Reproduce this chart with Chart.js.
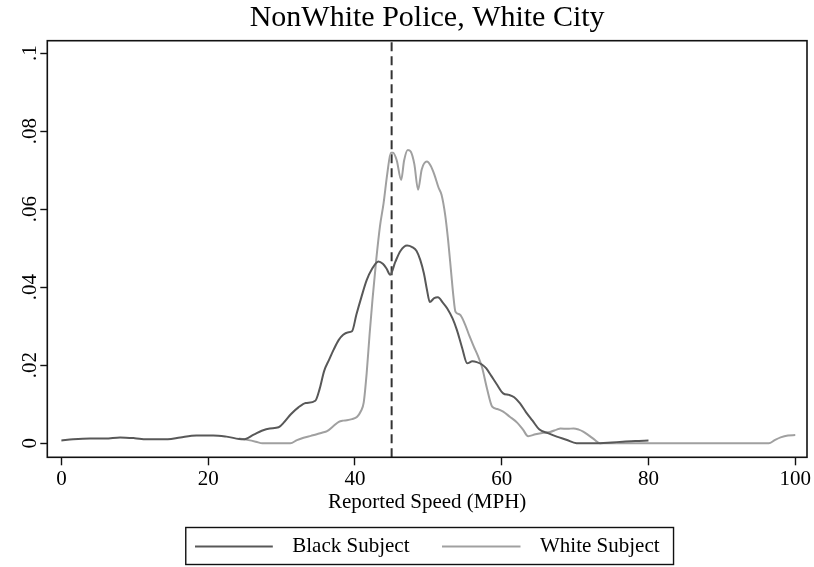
<!DOCTYPE html>
<html>
<head>
<meta charset="utf-8">
<script src="https://cdn.jsdelivr.net/npm/chart.js@4.4.1/dist/chart.umd.min.js"></script>
<style>
html,body{margin:0;padding:0;background:#ffffff;}
#wrap{width:814px;height:567px;}
</style>
</head>
<body>
<div id="wrap"><canvas id="c" width="814" height="567"></canvas></div>
<script>
// ---- chart text ----
const chartTitle = 'NonWhite Police, White City';
const xAxisTitle = 'Reported Speed (MPH)';
const seriesNames = ['Black Subject', 'White Subject'];

// ---- Black Subject density ----
const blackX = [0, 1.6, 3.9, 6, 8, 10, 11.6, 14.5, 16.2, 18.4, 20.7, 22.5, 24.8, 26.2, 27.3, 28.4, 29.6, 30.4, 31.3, 32.3, 33.3, 34.6, 35.2, 35.8, 36.5, 37.1, 37.8, 38.4, 39.0, 39.6, 40.2, 40.9, 41.6, 42.3, 43.2, 43.8, 44.3, 44.8, 45.5, 46.2, 47.1, 47.8, 48.4, 48.9, 49.4, 49.8, 50.2, 50.8, 51.3, 52.0, 52.6, 53.3, 53.9, 54.6, 55.3, 56.0, 56.6, 57.3, 57.9, 58.6, 59.3, 60.2, 61.0, 61.7, 62.5, 63.3, 64.2, 65.1, 66.3, 67.5, 68.8, 70.2, 73.4, 75, 76.5, 78.2, 80];
const blackY = [0.0007, 0.001, 0.0012, 0.0012, 0.0015, 0.0013, 0.001, 0.001, 0.0015, 0.002, 0.002, 0.0017, 0.001, 0.0022, 0.0032, 0.0038, 0.0041, 0.0055, 0.0075, 0.0092, 0.0103, 0.0109, 0.014, 0.0185, 0.0215, 0.024, 0.0265, 0.0278, 0.0284, 0.0287, 0.033, 0.0376, 0.0418, 0.0446, 0.0466, 0.046, 0.0448, 0.0432, 0.0465, 0.0493, 0.0507, 0.0503, 0.0493, 0.047, 0.0435, 0.0395, 0.0362, 0.0372, 0.0374, 0.036, 0.0345, 0.032, 0.029, 0.0245, 0.0205, 0.021, 0.0208, 0.0202, 0.0192, 0.0172, 0.0152, 0.0128, 0.0124, 0.0118, 0.0102, 0.008, 0.0058, 0.0036, 0.0026, 0.0017, 0.0009, 0, 0, 0.0002, 0.0004, 0.0006, 0.0007];

// ---- White Subject density ----
const whiteX = [24.2, 25.5, 26.5, 27.4, 31.2, 32.1, 33.0, 34.0, 34.8, 35.5, 36.2, 37.0, 37.8, 38.4, 38.9, 39.6, 40.3, 40.8, 41.2, 41.6, 42.0, 42.4, 42.9, 43.4, 43.9, 44.4, 44.9, 45.2, 45.7, 46.3, 46.7, 47.2, 47.6, 48.1, 48.6, 49.1, 49.8, 50.3, 50.8, 51.4, 51.8, 52.3, 52.7, 53.1, 53.4, 53.7, 54.3, 55.0, 55.6, 56.2, 56.8, 57.3, 58.0, 58.7, 59.4, 60.2, 61.1, 62.1, 62.9, 63.6, 64.6, 65.7, 66.6, 67.5, 68.0, 69.0, 69.8, 70.5, 71.1, 71.8, 72.6, 73.4, 96.4, 97.2, 98.0, 99.0, 100];
const whiteY = [0.0012, 0.0008, 0.0004, 0, 0, 0.0008, 0.0014, 0.0019, 0.0023, 0.0027, 0.0031, 0.0043, 0.0055, 0.0058, 0.0059, 0.0062, 0.0068, 0.0082, 0.0105, 0.018, 0.028, 0.037, 0.047, 0.0555, 0.0615, 0.069, 0.0745, 0.0745, 0.0725, 0.0675, 0.0725, 0.0752, 0.0748, 0.0715, 0.065, 0.0702, 0.0722, 0.0712, 0.069, 0.0655, 0.0637, 0.0585, 0.052, 0.044, 0.038, 0.0337, 0.033, 0.0305, 0.0275, 0.0248, 0.0222, 0.0196, 0.014, 0.0094, 0.0088, 0.0081, 0.0068, 0.0053, 0.0035, 0.0018, 0.0023, 0.0027, 0.0029, 0.0035, 0.0038, 0.0037, 0.0038, 0.0035, 0.003, 0.0021, 0.001, 0, 0, 0.0008, 0.0015, 0.002, 0.0021];

// ---- axes ----
const xTicks = [0, 20, 40, 60, 80, 100];
const xTickLabels = ['0', '20', '40', '60', '80', '100'];
const yTicks = [0, 0.02, 0.04, 0.06, 0.08, 0.1];
const yTickLabels = ['0', '.02', '.04', '.06', '.08', '.1'];
const xRange = [-1.92, 101.6];
const yRange = [-0.0036, 0.1032];
const refLineX = 45;

// ---- styling ----
const serif = "'Liberation Serif', 'Times New Roman', Times, serif";
const blackColor = '#585858';
const whiteColor = '#a0a0a0';

function legendSwatch(color) {
  const c = document.createElement('canvas');
  c.width = 87; c.height = 6;
  const g = c.getContext('2d');
  g.strokeStyle = color; g.lineWidth = 2;
  g.beginPath(); g.moveTo(0, 3); g.lineTo(78, 3); g.stroke();
  return c;
}

const framePlugin = {
  id: 'frame',
  afterDatasetsDraw(chart) {
    const a = chart.chartArea, ctx = chart.ctx;
    ctx.save();
    ctx.strokeStyle = '#111';
    ctx.lineWidth = 1.6;
    ctx.strokeRect(a.left, a.top, a.right - a.left, a.bottom - a.top);
    ctx.restore();
  },
  afterDraw(chart) {
    const lg = chart.legend;
    if (!lg || !lg.legendHitBoxes || !lg.legendHitBoxes.length) return;
    const hb = lg.legendHitBoxes;
    const last = hb[hb.length - 1];
    const left = hb[0].left - 9;
    const right = last.left + last.width + 14;
    const cy = hb[0].top + hb[0].height / 2;
    const ctx = chart.ctx;
    ctx.save();
    ctx.strokeStyle = '#111';
    ctx.lineWidth = 1.4;
    ctx.strokeRect(left, cy - 19, right - left, 37);
    ctx.restore();
  }
};

const ctx = document.getElementById('c').getContext('2d');
new Chart(ctx, {
  type: 'line',
  data: {
    datasets: [
      {
        label: seriesNames[0],
        data: blackX.map((x, i) => ({x: x, y: blackY[i]})),
        borderColor: blackColor, backgroundColor: blackColor,
        borderWidth: 2, pointRadius: 0, pointStyle: legendSwatch(blackColor),
        cubicInterpolationMode: 'monotone', fill: false
      },
      {
        label: seriesNames[1],
        data: whiteX.map((x, i) => ({x: x, y: whiteY[i]})),
        borderColor: whiteColor, backgroundColor: whiteColor,
        borderWidth: 2, pointRadius: 0, pointStyle: legendSwatch(whiteColor),
        cubicInterpolationMode: 'monotone', fill: false
      },
      {
        label: 'ref',
        data: [{x: refLineX, y: yRange[0]}, {x: refLineX, y: yRange[1]}],
        borderColor: '#333333', borderWidth: 2, borderDash: [9, 5],
        pointRadius: 0, fill: false
      }
    ]
  },
  options: {
    responsive: false,
    animation: false,
    devicePixelRatio: 1,
    events: [],
    layout: { padding: { left: 0, right: 7, top: 0, bottom: 0 } },
    plugins: {
      tooltip: { enabled: false },
      title: {
        display: true, text: chartTitle, fullSize: false,
        font: { family: serif, size: 30, weight: 'normal', lineHeight: 1.2 },
        color: '#000', padding: { top: 0, bottom: 4.7 }
      },
      legend: {
        display: true, position: 'bottom', fullSize: false,
        labels: {
          usePointStyle: true, pointStyleWidth: 87, padding: 33,
          font: { family: serif, size: 21 }, color: '#000',
          filter: (item) => item.datasetIndex < 2
        }
      }
    },
    scales: {
      x: {
        type: 'linear', min: xRange[0], max: xRange[1],
        afterBuildTicks: (s) => { s.ticks = xTicks.map(v => ({value: v})); },
        afterFit: (s) => { s.height = 45.7; },
        ticks: {
          callback: (v, i) => xTickLabels[i],
          font: { family: serif, size: 21 }, color: '#000',
          padding: 2, maxRotation: 0, minRotation: 0, autoSkip: false
        },
        grid: { display: true, drawOnChartArea: false, drawTicks: true, tickLength: 8, tickColor: '#111', tickWidth: 1.4 },
        border: { display: false },
        title: {
          display: true, text: xAxisTitle,
          font: { family: serif, size: 21 }, color: '#000',
          padding: { top: 0, bottom: -11.6 }
        }
      },
      y: {
        type: 'linear', min: yRange[0], max: yRange[1],
        afterBuildTicks: (s) => { s.ticks = yTicks.map(v => ({value: v})); },
        afterFit: (s) => { s.width = 47.3; },
        ticks: {
          callback: (v, i) => yTickLabels[i],
          font: { family: serif, size: 21 }, color: '#000',
          minRotation: 90, maxRotation: 90, crossAlign: 'center',
          padding: -3, autoSkip: false
        },
        grid: { display: true, drawOnChartArea: false, drawTicks: true, tickLength: 7, tickColor: '#111', tickWidth: 1.4 },
        border: { display: false }
      }
    }
  },
  plugins: [framePlugin]
});
</script>
</body>
</html>
